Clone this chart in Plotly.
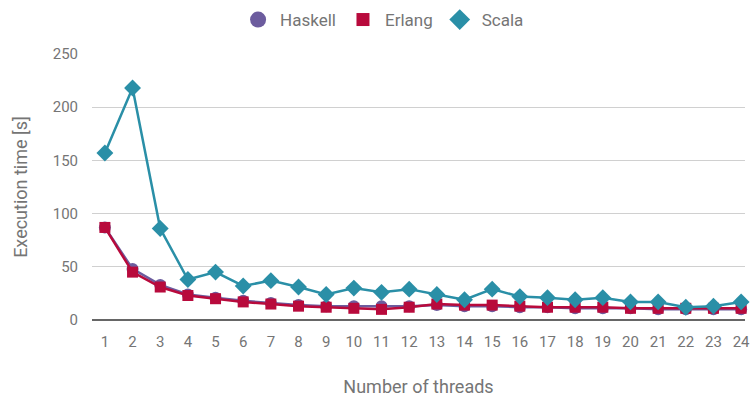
import plotly.graph_objects as go

threads = list(range(1, 25))
haskell = [87, 48, 33, 24, 21, 18, 16, 14, 13, 13, 13, 13, 14, 13, 13, 12, 12, 11, 11, 11, 10, 10, 10, 10]
erlang = [87, 45, 31, 23, 20, 17, 15, 13, 12, 11, 10, 12, 15, 14, 14, 13, 12, 12, 12, 11, 11, 11, 11, 11]
scala = [157, 218, 86, 38, 45, 32, 37, 31, 24, 30, 26, 29, 24, 19, 29, 22, 21, 19, 21, 17, 17, 12, 13, 17]

series = [
    ("Haskell", haskell, "#6c5c9e", "circle", 12, 16),
    ("Erlang", erlang, "#b80a3c", "square", 11, 13),
    ("Scala", scala, "#2a8fa7", "diamond", 13, 16),
]

fig = go.Figure()
for name, vals, color, symbol, size, _ in series:
    fig.add_trace(go.Scatter(
        x=threads, y=vals, name=name, mode="lines+markers",
        line=dict(color=color, width=2.5),
        marker=dict(symbol=symbol, size=size, color=color),
        cliponaxis=False, showlegend=False,
    ))

# marker-only legend entries
for name, vals, color, symbol, _, lsize in series:
    fig.add_trace(go.Scatter(
        x=[None], y=[None], name=name, mode="markers",
        marker=dict(symbol=symbol, size=lsize, color=color),
        showlegend=True,
    ))

font_color = "#757575"
fig.update_layout(
    width=750, height=397,
    margin=dict(l=92, r=0, t=54, b=77),
    paper_bgcolor="white", plot_bgcolor="white",
    font=dict(family="Roboto", size=15, color=font_color),
    legend=dict(orientation="h", x=0.445, xanchor="center", y=0.995, yanchor="top",
                yref="container", font=dict(size=17, color=font_color),
                itemsizing="trace", itemwidth=34, tracegroupgap=0),
    showlegend=True,
)
fig.update_xaxes(
    range=[0.534, 24.14], tickmode="array", tickvals=threads,
    showgrid=False, zeroline=False, showline=False,
    ticks="outside", ticklen=8, tickcolor="rgba(0,0,0,0)",
    ticklabeloverflow="allow",
    title=dict(text="Number of threads", standoff=30),
)
fig.update_yaxes(
    range=[0, 250], tickvals=[0, 50, 100, 150, 200, 250],
    showgrid=True, gridcolor="#d0d0d0", gridwidth=1,
    zeroline=True, zerolinecolor="#666666", zerolinewidth=2,
    showline=False, ticks="outside", ticklen=10, tickcolor="rgba(0,0,0,0)",
    title=dict(text="Execution time [s]", standoff=20),
)

fig.write_html("out.html")
